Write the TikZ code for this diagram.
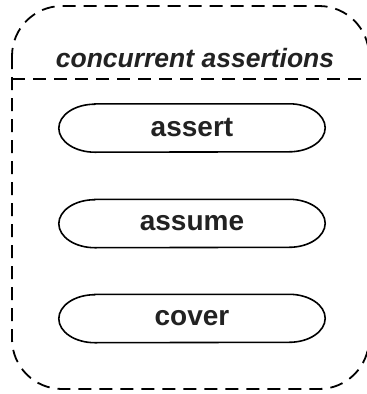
\documentclass[tikz,border=0pt]{standalone}
\usepackage{fontspec}
\setmainfont{Liberation Sans}
\definecolor{txt}{HTML}{222222}
\newcommand\pilloutline[1]{%
  \draw[pillline] ([xshift=36pt]#1.north west) -- ([xshift=-36pt]#1.north east)
      arc[start angle=90,end angle=-90,x radius=36pt,y radius=24pt]
      -- ([xshift=36pt]#1.south west)
      arc[start angle=270,end angle=90,x radius=36pt,y radius=24pt] -- cycle;}
\begin{document}
\begin{tikzpicture}[x=1pt,y=-1pt,
  dashline/.style={draw=black,line width=1.8pt,dash pattern=on 13pt off 8pt},
  outerbox/.style={dashline,rounded corners=50pt},
  pillline/.style={draw=black,line width=1.6pt},
  pill/.style={minimum width=266pt,minimum height=48pt,inner sep=0pt,font=\fontsize{28}{30}\selectfont\bfseries,text=txt},
  titletext/.style={font=\fontsize{26.5}{29}\selectfont\bfseries\itshape,text=txt,inner sep=0pt}]
\useasboundingbox (0,0) rectangle (367,394);
\draw[outerbox] (12,6) rectangle (369,389);
\node[titletext] (title) at (195,58) {concurrent assertions};
\coordinate (dl) at (12,79);
\coordinate (dr) at (369,79);
\draw[dashline] (dl) -- (dr);
\node[pill] (assert) at (192,128) {assert};
\node[pill] (assume) at (192,223.5) {assume};
\node[pill] (cover) at (192,318.5) {cover};
\pilloutline{assert}
\pilloutline{assume}
\pilloutline{cover}
\end{tikzpicture}
\end{document}
